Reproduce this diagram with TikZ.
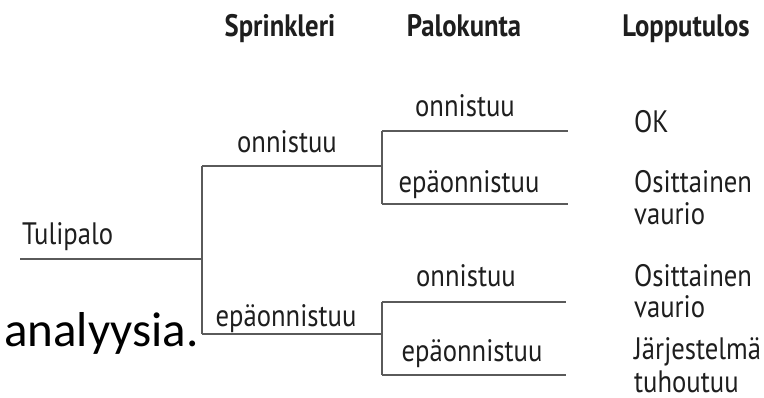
\documentclass[tikz,border=0pt]{standalone}
\usepackage{fontspec}
\setmainfont{PT Sans}[FakeStretch=0.86]
\newfontfamily\captionfont{Carlito}
\definecolor{ink}{HTML}{1E1E1E}
\definecolor{branch}{HTML}{5A5A5A}
\tikzset{
  lbl/.style={anchor=base, inner sep=0pt, text=ink, font=\fontsize{31}{36}\selectfont},
  head/.style={lbl, font=\fontsize{31}{36}\selectfont\bfseries},
  outcome/.style={lbl, anchor=base west},
  edge/.style={draw=branch, line width=1.3pt, line cap=butt}
}
\begin{document}
\begin{tikzpicture}[x=1pt, y=-1pt]
\useasboundingbox (0,0) rectangle (764,398);
\fill[white] (0,0) rectangle (764,398);

% column headings
\node[head] (hs) at (280,37) {Sprinkleri};
\node[head] (hp) at (464,37) {Palokunta};
\node[head] (hl) at (686,37) {Lopputulos};

% branching points of the event tree
\coordinate (root) at (20,259);
\coordinate (s)  at (202,259);
\coordinate (s1) at (202,166);
\coordinate (s2) at (202,334);
\coordinate (p1) at (382,166);
\coordinate (p1a) at (382,131);
\coordinate (p1b) at (382,204);
\coordinate (e1) at (568,131);
\coordinate (e2) at (568,204);
\coordinate (p2) at (382,334);
\coordinate (p2a) at (382,302);
\coordinate (p2b) at (382,375);
\coordinate (e3) at (566,302);
\coordinate (e4) at (566,375);

\draw[edge] (root) -- (s);
\draw[edge] (s1) -- (s2);
\draw[edge] (s1) -- (p1);
\draw[edge] (s2) -- (p2);
\draw[edge] (p1a) -- (p1b);
\draw[edge] (p1a) -- (e1);
\draw[edge] (p1b) -- (e2);
\draw[edge] (p2a) -- (p2b);
\draw[edge] (p2a) -- (e3);
\draw[edge] (p2b) -- (e4);

% initiating event
\node[lbl, anchor=base west] (tp) at (22,245) {Tulipalo};

% sprinkler branches
\node[lbl] (so) at (287,153) {onnistuu};
\node[lbl] (se) at (286,327) {epäonnistuu};

% fire brigade branches
\node[lbl] (po1) at (465,117) {onnistuu};
\node[lbl] (pe1) at (469,193) {epäonnistuu};
\node[lbl] (po2) at (466,287) {onnistuu};
\node[lbl] (pe2) at (472,362) {epäonnistuu};

% outcomes
\node[outcome] (ok) at (634,133) {OK};
\node[outcome] (o2a) at (634,193) {Osittainen};
\node[outcome] (o2b) at (634,225) {vaurio};
\node[outcome] (o3a) at (634,287) {Osittainen};
\node[outcome] (o3b) at (634,318) {vaurio};
\node[outcome] (o4a) at (634,360) {Järjestelmä};
\node[outcome, text depth=0pt] (o4b) at (634,392) {tuhoutuu};

% trailing word of the surrounding sentence
\node[anchor=base west, inner sep=0pt, text=black, font=\captionfont\fontsize{49}{58}\selectfont] (cap) at (4,347) {analyysia.};
\end{tikzpicture}
\end{document}
